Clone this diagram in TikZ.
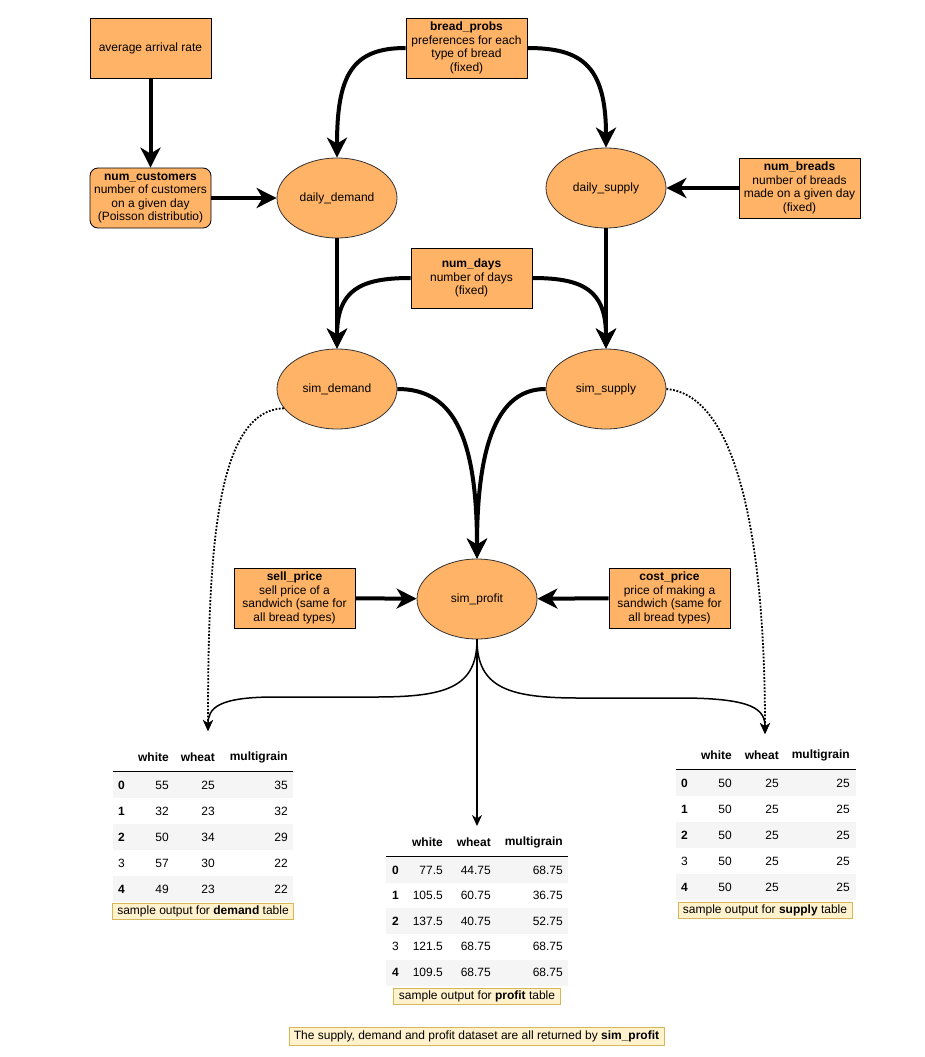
\documentclass[tikz,border=0pt]{standalone}
\usepackage{fontspec}
\setmainfont{Liberation Sans}
\usetikzlibrary{arrows.meta,shapes.geometric}
\definecolor{nodefill}{HTML}{FFB366}
\definecolor{notefill}{HTML}{FFF2CC}
\definecolor{notedraw}{HTML}{D6B656}
\definecolor{rowgray}{HTML}{F5F5F5}
\newcommand\idxnum[1]{\ifnum#1=3 #1\else\textbf{#1}\fi}

\begin{document}
\begin{tikzpicture}[x=1pt,y=-1pt,
  txt/.style={font=\fontsize{12}{13.5}\selectfont},
  box/.style={txt, draw=black, fill=nodefill, line width=0.8pt,
    minimum width=121pt, minimum height=60pt, align=center, inner sep=1pt},
  rbox/.style={box, rounded corners=8pt},
  oval/.style={txt, ellipse, draw=black!80, fill=nodefill, line width=0.8pt,
    minimum width=120pt, minimum height=80pt, inner sep=0pt},
  flow/.style={line width=4pt, -{Stealth[length=20pt,width=20pt,inset=6pt]}},
  thinflow/.style={line width=1.5pt, -{Stealth[length=11pt,width=10pt,inset=3.5pt]}},
  dottedflow/.style={thinflow, line width=1.8pt, dash pattern=on 1.8pt off 1.6pt},
  note/.style={txt, draw=notedraw, fill=notefill, line width=0.8pt, inner sep=1pt},
  cell/.style={txt, inner sep=0pt, anchor=east},
  hcell/.style={cell, font=\fontsize{12}{13.5}\selectfont\bfseries},
  icell/.style={txt, inner sep=0pt, anchor=west},
  rule/.style={line width=1pt}
]
\useasboundingbox (0,0) rectangle (925,1057);

% ---- input boxes ----
\node[box] (rate) at (150.5,48) {average arrival rate};
\node[box] (probs) at (466.5,48) {\textbf{bread\_probs}\\preferences for each\\type of bread\\(fixed)};
\node[rbox] (cust) at (150.5,198) {\textbf{num\_customers}\\number of customers\\on a given day\\(Poisson distributio)};
\node[box] (breads) at (799.5,188) {\textbf{num\_breads}\\number of breads\\made on a given day\\(fixed)};
\node[box] (days) at (471.5,278) {\textbf{num\_days}\\number of days\\(fixed)};
\node[box] (sell) at (294.5,598) {\textbf{sell\_price}\\sell price of a\\sandwich (same for\\all bread types)};
\node[box] (cost) at (669.5,598) {\textbf{cost\_price}\\price of making a\\sandwich (same for\\all bread types)};

% ---- functions ----
\node[oval] (ddem) at (337,198) {daily\_demand};
\node[oval] (dsup) at (606,188) {daily\_supply};
\node[oval] (sdem) at (337,389) {sim\_demand};
\node[oval] (ssup) at (606,389) {sim\_supply};
\node[oval] (sprof) at (477,599) {sim\_profit};

% ---- thick data flow ----
\draw[flow] (rate) -- (cust);
\draw[flow] (cust) -- (ddem);
\draw[flow] (probs.west) .. controls (352,48) and (337,75) .. (ddem.north);
\draw[flow] (probs.east) .. controls (581,48) and (606,65) .. (dsup.north);
\draw[flow] (breads) -- (dsup);
\draw[flow] (ddem) -- (sdem);
\draw[flow] (dsup) -- (ssup);
\draw[flow] (days.west) .. controls (360,278) and (337,290) .. (sdem.north);
\draw[flow] (days.east) .. controls (583,278) and (606,290) .. (ssup.north);
\draw[flow] (sdem.east) .. controls (450,389) and (477,430) .. (sprof.north);
\draw[flow] (ssup.west) .. controls (504,389) and (477,430) .. (sprof.north);
\draw[flow] (sell) -- (sprof);
\draw[flow] (cost) -- (sprof);

% ---- outputs ----
\coordinate (dtop) at (208,731);
\coordinate (ptop) at (477,826);
\coordinate (stop) at (765,734);
\draw[thinflow] (sprof.south) -- (ptop);
\draw[thinflow] (sprof.south) .. controls (477,688) and (445,697) .. (375,697)
  -- (275,697) .. controls (218,697) and (208,708) .. (dtop);
\draw[thinflow] (sprof.south) .. controls (477,688) and (509,698) .. (579,698)
  -- (680,698) .. controls (755,698) and (765,710) .. (stop);
\draw[dottedflow] (sdem.200) .. controls (216,410) and (208,550) .. (dtop);
\draw[dottedflow] (ssup.east) .. controls (740,395) and (765,550) .. (stop);

% ---- demand table ----
\foreach \i in {0,2,4} \fill[rowgray] (113,{772+26*\i}) rectangle (293,{798+26*\i});
\draw[rule] (113,771.5) -- (293,771.5);
\node[hcell] (dh1) at (169,757) {white};
\node[hcell] (dh2) at (215,757) {wheat};
\node[hcell] (dh3) at (288,757) {multigrain};
\foreach \i/\a/\b/\c in {0/55/25/35,1/32/23/32,2/50/34/29,3/57/30/22,4/49/23/22}{
  \node[icell] (di\i) at (118,{785+26*\i}) {\idxnum{\i}};
  \node[cell] (da\i) at (169,{785+26*\i}) {\a};
  \node[cell] (db\i) at (215,{785+26*\i}) {\b};
  \node[cell] (dc\i) at (288,{785+26*\i}) {\c};
}
\node[note, minimum width=181pt, minimum height=16pt] (dnote) at (203,911) {sample output for \textbf{demand} table};

% ---- profit table ----
\foreach \i in {0,2,4} \fill[rowgray] (386,{857+25.7*\i}) rectangle (568,{882.7+25.7*\i});
\draw[rule] (386,856.5) -- (568,856.5);
\node[hcell] (ph1) at (443,842) {white};
\node[hcell] (ph2) at (491,842) {wheat};
\node[hcell] (ph3) at (563,842) {multigrain};
\foreach \i/\a/\b/\c in {0/77.5/44.75/68.75,1/105.5/60.75/36.75,2/137.5/40.75/52.75,3/121.5/68.75/68.75,4/109.5/68.75/68.75}{
  \node[icell] (pi\i) at (392,{870+25.5*\i}) {\idxnum{\i}};
  \node[cell] (pa\i) at (443,{870+25.5*\i}) {\a};
  \node[cell] (pb\i) at (491,{870+25.5*\i}) {\b};
  \node[cell] (pc\i) at (563,{870+25.5*\i}) {\c};
}
\node[note, minimum width=167pt, minimum height=16pt] (pnote) at (477,996) {sample output for \textbf{profit} table};

% ---- supply table ----
\foreach \i in {0,2,4} \fill[rowgray] (676,{770+26*\i}) rectangle (856,{796+26*\i});
\draw[rule] (676,769.5) -- (856,769.5);
\node[hcell] (sh1) at (732,755) {white};
\node[hcell] (sh2) at (779,755) {wheat};
\node[hcell] (sh3) at (850,755) {multigrain};
\foreach \i/\a/\b/\c in {0/50/25/25,1/50/25/25,2/50/25/25,3/50/25/25,4/50/25/25}{
  \node[icell] (si\i) at (681,{783+26*\i}) {\idxnum{\i}};
  \node[cell] (sa\i) at (732,{783+26*\i}) {\a};
  \node[cell] (sb\i) at (779,{783+26*\i}) {\b};
  \node[cell] (sc\i) at (850,{783+26*\i}) {\c};
}
\node[note, minimum width=174pt, minimum height=16pt] (snote) at (765,910) {sample output for \textbf{supply} table};

% ---- footnote ----
\node[note, minimum width=375pt, minimum height=18pt] (foot) at (476.5,1036) {The supply, demand and profit dataset are all returned by \textbf{sim\_profit}};
\end{tikzpicture}
\end{document}
